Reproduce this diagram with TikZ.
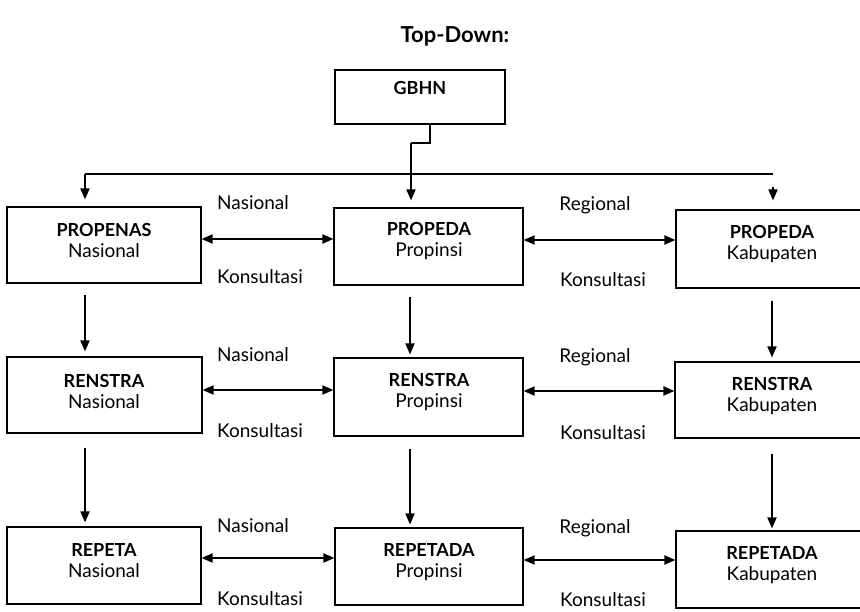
\documentclass[tikz,border=0pt]{standalone}
\usepackage{fontspec}
\setmainfont{Lato}
\usetikzlibrary{arrows.meta}
\begin{document}
\begin{tikzpicture}[x=1pt,y=-1pt,
  box/.style={draw=black,line width=1.1pt,rectangle,inner sep=0pt},
  txt/.style={align=center,inner sep=0pt,font=\fontsize{19}{21}\selectfont},
  lbl/.style={inner sep=0pt,font=\fontsize{19}{21}\selectfont},
  arr/.style={line width=1.8pt,-{Triangle[length=11pt,width=9pt]}},
  dbl/.style={line width=1.8pt,{Triangle[length=11pt,width=9pt]}-{Triangle[length=11pt,width=9pt]}},
  ln/.style={line width=1.5pt}]
\newcommand{\hdtext}[1]{{\fontsize{18}{21}\selectfont\bfseries #1}}
\useasboundingbox (0,0) rectangle (860,612);
\fill[white] (0,0) rectangle (860,612);
\clip (0,0) rectangle (860,612);
% title
\node[inner sep=0pt,font=\fontsize{22}{26}\selectfont\bfseries] (title) at (455,36) {Top-Down:};
% GBHN
\node[box,minimum width=170pt,minimum height=54pt] (gbhn) at (420,97) {};
\node[txt] (gbhnt) at (420,88) {\hdtext{GBHN}};
% row 1
\node[box,minimum width=194pt,minimum height=76pt] (pn) at (104,245) {};
\node[txt] (pnt) at (104,240) {\hdtext{PROPENAS}\\Nasional};
\node[box,minimum width=189pt,minimum height=77pt] (pp) at (428.5,246.5) {};
\node[txt] (ppt) at (429,241) {\hdtext{PROPEDA}\\Propinsi};
\node[box,minimum width=194pt,minimum height=78pt] (pk) at (773,249) {};
\node[txt] (pkt) at (772,244) {\hdtext{PROPEDA}\\Kabupaten};
% row 2
\node[box,minimum width=195pt,minimum height=76pt] (rn) at (104.5,395) {};
\node[txt] (rnt) at (104,391) {\hdtext{RENSTRA}\\Nasional};
\node[box,minimum width=189pt,minimum height=78pt] (rp) at (428.5,397) {};
\node[txt] (rpt) at (429,392) {\hdtext{RENSTRA}\\Propinsi};
\node[box,minimum width=195pt,minimum height=76pt] (rk) at (772.5,400) {};
\node[txt] (rkt) at (772,396) {\hdtext{RENSTRA}\\Kabupaten};
% row 3
\node[box,minimum width=194pt,minimum height=77pt] (en) at (104,565.5) {};
\node[txt] (ent) at (104,561) {\hdtext{REPETA}\\Nasional};
\node[box,minimum width=188pt,minimum height=77pt] (ep) at (429,566.5) {};
\node[txt] (ept) at (429,562) {\hdtext{REPETADA}\\Propinsi};
\node[box,minimum width=194pt,minimum height=77pt] (ek) at (773,569.5) {};
\node[txt] (ekt) at (772,565) {\hdtext{REPETADA}\\Kabupaten};
% GBHN distribution
\coordinate (j1) at (430,143);
\coordinate (hl) at (85,174);
\coordinate (hr) at (773,174);
\draw[ln] (gbhn.south -| j1) -- (j1) -- (411,143);
\draw[arr] (411,143) -- ([yshift=7pt]pp.north -| 411,0);
\draw[ln] (hl) -- (hr);
\draw[arr] (hl) -- ([yshift=7pt]pn.north -| hl);
\coordinate (rs) at (773,187);
\draw[arr] (rs) -- ([yshift=9pt]pk.north -| rs);
% vertical arrows row1 -> row2
\draw[arr] ([yshift=-11pt]pn.south -| 85,0) -- ([yshift=5pt]rn.north -| 85,0);
\draw[arr] ([yshift=-11pt]pp.south -| 410,0) -- ([yshift=3pt]rp.north -| 410,0);
\draw[arr] ([yshift=-12pt]pk.south -| 772,0) -- ([yshift=4pt]rk.north -| 772,0);
% vertical arrows row2 -> row3
\draw[arr] ([yshift=-14pt]rn.south -| 85,0) -- ([yshift=4pt]en.north -| 85,0);
\draw[arr] ([yshift=-12pt]rp.south -| 410,0) -- ([yshift=3pt]ep.north -| 410,0);
\draw[arr] ([yshift=-15pt]rk.south -| 772,0) -- ([yshift=2pt]ek.north -| 772,0);
% horizontal consultations
\draw[dbl] (pn.east |- 0,239) -- (pp.west |- 0,239);
\draw[dbl] (pp.east |- 0,240) -- (pk.west |- 0,240);
\draw[dbl] (rn.east |- 0,390) -- (rp.west |- 0,390);
\draw[dbl] (rp.east |- 0,391) -- (rk.west |- 0,391);
\draw[dbl] (en.east |- 0,558) -- (ep.west |- 0,558);
\draw[dbl] (ep.east |- 0,560) -- (ek.west |- 0,560);
% labels
\node[lbl] (l1a) at (253,203) {Nasional};
\node[lbl] (l1b) at (260,277) {Konsultasi};
\node[lbl] (l1c) at (595,205) {Regional};
\node[lbl] (l1d) at (603,280) {Konsultasi};
\node[lbl] (l2a) at (253,355) {Nasional};
\node[lbl] (l2b) at (260,431) {Konsultasi};
\node[lbl] (l2c) at (595,357) {Regional};
\node[lbl] (l2d) at (603,433) {Konsultasi};
\node[lbl] (l3a) at (253,526) {Nasional};
\node[lbl] (l3b) at (260,599) {Konsultasi};
\node[lbl] (l3c) at (595,528) {Regional};
\node[lbl] (l3d) at (603,600) {Konsultasi};
\end{tikzpicture}
\end{document}
